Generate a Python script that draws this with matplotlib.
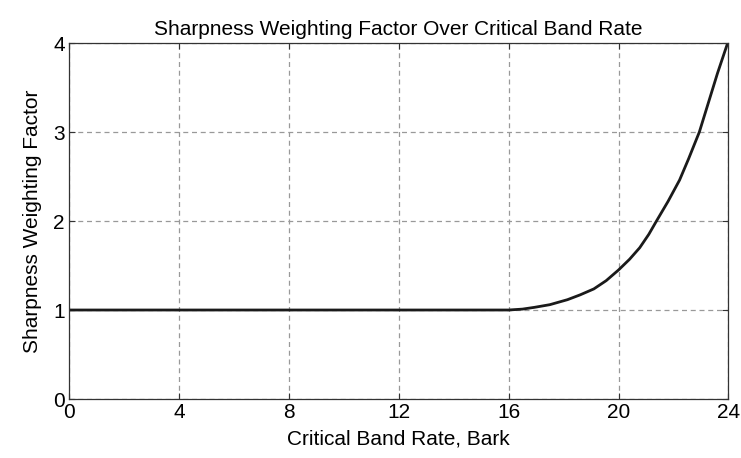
import matplotlib
matplotlib.use("Agg")
import matplotlib.pyplot as plt

plt.rcParams["font.family"] = ["Liberation Sans", "DejaVu Sans"]

# values
bark = [0, 4, 8, 12, 16, 16.5, 16.94, 17.5, 18.14, 18.6, 19.1, 19.55, 20, 20.4,
        20.77, 21.1, 21.38, 21.8, 22.22, 22.55, 22.94, 23.3, 23.6, 23.97]
weight = [1, 1, 1, 1, 1, 1.01, 1.03, 1.06, 1.116, 1.17, 1.237, 1.33, 1.45, 1.57,
          1.70, 1.85, 2.0, 2.22, 2.46, 2.70, 3.0, 3.36, 3.66, 4.0]
xticks = [0, 4, 8, 12, 16, 20, 24]
yticks = [0, 1, 2, 3, 4]

fig = plt.figure(figsize=(7.41, 4.58), dpi=100)
ax = fig.add_axes([0.0931, 0.1288, 0.8900, 0.7773])
ax.plot(bark, weight, color="#1a1a1a", lw=2.0, solid_joinstyle="round")
ax.set_xlim(0, 24)
ax.set_ylim(0, 4)
ax.set_xticks(xticks)
ax.set_yticks(yticks)
ax.grid(True, ls=(0, (4, 3)), color="#999999", lw=0.9)
ax.tick_params(direction="in", length=4, top=True, right=True, labelsize=15,
               color="#333333", pad=3)
for s in ax.spines.values():
    s.set_color("#333333")
    s.set_linewidth(0.9)
ax.set_xlabel("Critical Band Rate, Bark", fontsize=15, labelpad=5)
ax.set_ylabel("Sharpness Weighting Factor", fontsize=15, labelpad=8)
ax.set_title("Sharpness Weighting Factor Over Critical Band Rate", fontsize=15, pad=6)
fig.savefig("out.png", dpi=100)
